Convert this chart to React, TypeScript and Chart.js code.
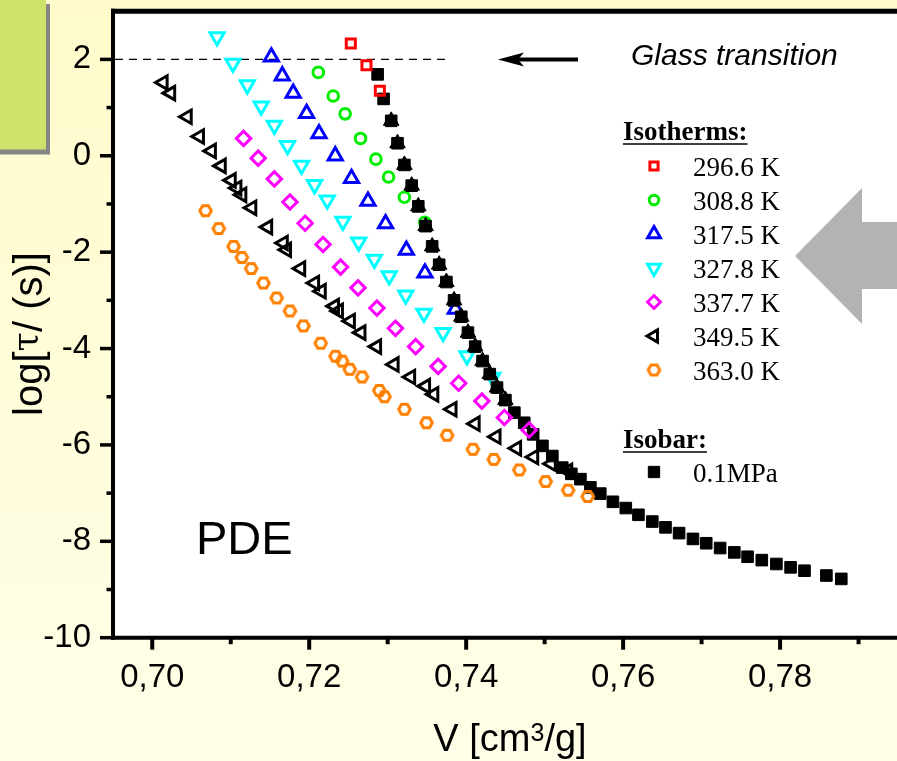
import React, { useEffect, useRef } from 'react';
import { Chart, registerables } from 'chart.js';
import { drawPoint } from 'chart.js/helpers';
Chart.register(...registerables);

// ---------- data: [V (cm3/g), log tau (s)] ----------
const iso296_6: number[][] = [[0.7253, 2.33], [0.7273, 1.88], [0.7290, 1.35]];
const iso308_8: number[][] = [
  [0.72116, 1.73], [0.72306, 1.24], [0.72458, 0.87], [0.72654, 0.36], [0.7285, -0.07],
  [0.73011, -0.44], [0.73213, -0.86], [0.73472, -1.38],
];
const iso317_5: number[][] = [
  [0.71518, 2.05], [0.71657, 1.66], [0.71796, 1.30], [0.71967, 0.88], [0.72125, 0.46],
  [0.72332, 0.00], [0.72539, -0.47], [0.72749, -0.94], [0.72973, -1.41], [0.73238, -1.96],
  [0.73475, -2.43], [0.73862, -3.18],
];
const iso327_8: number[][] = [
  [0.70826, 2.47], [0.71028, 1.92], [0.71211, 1.47], [0.71388, 1.03], [0.71556, 0.63],
  [0.71724, 0.21], [0.71902, -0.20], [0.72068, -0.60], [0.7223, -0.92], [0.72429, -1.36],
  [0.72631, -1.79], [0.7283, -2.15], [0.7302, -2.49], [0.7323, -2.89], [0.73462, -3.27],
  [0.73706, -3.67], [0.7401, -4.15], [0.74339, -4.60],
];
const iso337_7: number[][] = [
  [0.71164, 0.36], [0.7135, -0.05], [0.71556, -0.48], [0.71755, -0.96], [0.71948, -1.40],
  [0.72176, -1.84], [0.724, -2.31], [0.72622, -2.74], [0.72863, -3.16], [0.73099, -3.58],
  [0.73356, -3.96], [0.73643, -4.37], [0.73905, -4.72], [0.7420, -5.09], [0.74487, -5.43],
  [0.74803, -5.69],
];
const iso349_5: number[][] = [
  [0.7014, 1.52], [0.70236, 1.30], [0.70447, 0.81], [0.70603, 0.40], [0.70755, 0.10],
  [0.70881, -0.21], [0.71008, -0.51], [0.7108, -0.67], [0.71143, -0.81], [0.7127, -1.08],
  [0.71472, -1.48], [0.71671, -1.81], [0.71712, -1.95], [0.71893, -2.34], [0.7207, -2.64],
  [0.72155, -2.81], [0.72323, -3.12], [0.72374, -3.22], [0.72526, -3.43], [0.72661, -3.67],
  [0.7286, -3.96], [0.73083, -4.33], [0.73294, -4.59], [0.73484, -4.78], [0.73589, -4.95],
  [0.73821, -5.26], [0.74116, -5.56], [0.74382, -5.83], [0.74644, -6.07], [0.74862, -6.25],
  [0.75086, -6.39], [0.75296, -6.54],
];
const iso363_0: number[][] = [
  [0.70679, -1.14], [0.70848, -1.51], [0.71037, -1.88], [0.71142, -2.11], [0.71261, -2.34],
  [0.71417, -2.64], [0.71585, -2.95], [0.71755, -3.22], [0.71927, -3.53], [0.72147, -3.89],
  [0.72336, -4.16], [0.7242, -4.26], [0.72517, -4.43], [0.72673, -4.59], [0.72893, -4.87],
  [0.7296, -5.00], [0.73213, -5.26], [0.73495, -5.54], [0.73757, -5.80], [0.74086, -6.09],
  [0.74352, -6.30], [0.74677, -6.52], [0.75013, -6.76], [0.753, -6.94], [0.75549, -7.07],
];
const isobar0_1MPa: number[][] = [
  [0.72872, 1.69], [0.72948, 1.18], [0.73045, 0.725], [0.73125, 0.26], [0.73213, -0.19],
  [0.73306, -0.62], [0.7339, -1.05], [0.73483, -1.46], [0.73567, -1.88], [0.73656, -2.26],
  [0.73748, -2.62], [0.73846, -3.0], [0.73938, -3.34], [0.74023, -3.67], [0.74115, -3.96],
  [0.74209, -4.26], [0.74301, -4.53], [0.74393, -4.81], [0.745, -5.07], [0.74614, -5.33],
  [0.7474, -5.54], [0.74854, -5.78], [0.74972, -6.02], [0.75098, -6.23], [0.75225, -6.47],
  [0.75340, -6.60], [0.75456, -6.71], [0.75583, -6.88], [0.75709, -7.01], [0.7587, -7.18],
  [0.76034, -7.31], [0.76195, -7.45], [0.76372, -7.59], [0.7654, -7.71], [0.76713, -7.83],
  [0.7689, -7.95], [0.77059, -8.04], [0.77236, -8.14], [0.77417, -8.23], [0.77586, -8.32],
  [0.77767, -8.39], [0.77953, -8.47], [0.78134, -8.54], [0.78311, -8.61], [0.7859, -8.71],
  [0.7878, -8.78],
];
const isobarMarkedRange = [2, 19];

const isothermLabels = ['296.6 K', '308.8 K', '317.5 K', '327.8 K', '337.7 K', '349.5 K', '363.0 K'];
const isobarLabel = '0.1MPa';

const xMajorTicks = [0.70, 0.72, 0.74, 0.76, 0.78];
const xMinorTicks = [0.71, 0.73, 0.75, 0.77, 0.79];
const yMajorTicks = [-10, -8, -6, -4, -2, 0, 2];
const yMinorTicks = [-9, -7, -5, -3, -1, 1];
const glassLevel = 2;
const glassLineEnd = 0.738;

// ---------- styles ----------
const LW = 3;
function makeHexagon(color: string, r: number, lw: number) {
  const c = document.createElement('canvas');
  const s = Math.ceil(2 * r + lw + 2);
  c.width = s; c.height = s;
  const g = c.getContext('2d')!;
  g.strokeStyle = color; g.lineWidth = lw;
  g.beginPath();
  for (let i = 0; i < 6; i++) {
    const a = (Math.PI / 3) * i;
    const px = s / 2 + r * Math.cos(a), py = s / 2 + r * Math.sin(a);
    if (i === 0) g.moveTo(px, py); else g.lineTo(px, py);
  }
  g.closePath(); g.stroke();
  return c;
}

type Sty = { color: string; style: any; rotation: number; radius: number; order: number };

function buildStyles(): Sty[] {
  return [
    { color: '#ff0000', style: 'rect', rotation: 0, radius: 6.4, order: 1 },
    { color: '#00ee00', style: 'circle', rotation: 0, radius: 5.3, order: 8 },
    { color: '#0000ff', style: 'triangle', rotation: 0, radius: 8.2, order: 8 },
    { color: '#00ffff', style: 'triangle', rotation: 180, radius: 8.2, order: 8 },
    { color: '#ff00ff', style: 'rectRot', rotation: 0, radius: 7.2, order: 2 },
    { color: '#000000', style: 'triangle', rotation: -90, radius: 7.8, order: 3 },
    { color: '#ff8000', style: makeHexagon('#ff8000', 5.8, LW), rotation: 0, radius: 6, order: 2 },
  ];
}

const toPts = (a: number[][]) => a.map(([x, y]) => ({ x, y }));

export default function App() {
  const ref = useRef<HTMLCanvasElement>(null);
  useEffect(() => {
    const canvas = ref.current!;
    const styles = buildStyles();
    const series = [iso296_6, iso308_8, iso317_5, iso327_8, iso337_7, iso349_5, iso363_0];

    const datasets: any[] = series.map((d, i) => ({
      label: isothermLabels[i],
      data: toPts(d),
      showLine: false,
      pointStyle: styles[i].style,
      pointRotation: styles[i].rotation,
      pointRadius: styles[i].radius,
      pointBorderWidth: LW,
      pointBorderColor: styles[i].color,
      pointBackgroundColor: 'rgba(0,0,0,0)',
      order: styles[i].order,
    }));
    datasets.push({
      label: isobarLabel,
      data: toPts(isobar0_1MPa),
      showLine: false,
      pointStyle: 'rect',
      pointRadius: 8.2,
      pointBorderWidth: 1,
      pointBorderColor: '#000',
      pointBackgroundColor: '#000',
      order: 5,
    });
    datasets.push({
      label: 'isobar-marked',
      data: toPts(isobar0_1MPa.slice(isobarMarkedRange[0], isobarMarkedRange[1])),
      showLine: false,
      pointStyle: 'triangle',
      pointRadius: 9,
      pointBorderWidth: 1,
      pointBorderColor: '#000',
      pointBackgroundColor: '#000',
      order: 5,
    });

    const line = (ctx: CanvasRenderingContext2D, x1: number, y1: number, x2: number, y2: number) => {
      ctx.beginPath(); ctx.moveTo(x1, y1); ctx.lineTo(x2, y2); ctx.stroke();
    };

    const decor = {
      id: 'decor',
      beforeDraw(chart: any) {
        const { ctx, chartArea: ca, width, height } = chart;
        ctx.save();
        const g = ctx.createLinearGradient(0, 0, 0, height);
        g.addColorStop(0, '#fffbcb');
        g.addColorStop(1, '#fffee8');
        ctx.fillStyle = g;
        ctx.fillRect(0, 0, width, height);
        ctx.fillStyle = '#ffffff';
        ctx.fillRect(ca.left, ca.top, ca.right - ca.left, ca.bottom - ca.top);
        const xs = chart.scales.x, ys = chart.scales.y;
        ctx.strokeStyle = '#000'; ctx.lineWidth = 1.4; ctx.setLineDash([8, 6]);
        const gy = ys.getPixelForValue(glassLevel);
        line(ctx, ca.left + 2, gy, xs.getPixelForValue(glassLineEnd), gy);
        ctx.setLineDash([]);
        ctx.restore();
      },
      afterDraw(chart: any) {
        const { ctx, chartArea: ca, width } = chart;
        const xs = chart.scales.x, ys = chart.scales.y;
        ctx.save();
        ctx.strokeStyle = '#000'; ctx.lineCap = 'butt';
        ctx.lineWidth = 4;
        line(ctx, ca.left, ca.top - 2.5, ca.left, ca.bottom + 2);
        line(ctx, ca.left - 2, ca.bottom, width, ca.bottom);
        ctx.lineWidth = 5;
        line(ctx, ca.left - 2, ca.top, width, ca.top);
        ctx.lineWidth = 3.5;
        yMajorTicks.forEach(v => { const p = ys.getPixelForValue(v); line(ctx, ca.left - 13, p, ca.left, p); });
        yMinorTicks.forEach(v => { const p = ys.getPixelForValue(v); line(ctx, ca.left - 6.5, p, ca.left, p); });
        ctx.lineWidth = 4;
        xMajorTicks.forEach(v => { const p = xs.getPixelForValue(v); line(ctx, p, ca.bottom, p, ca.bottom + 12); });
        xMinorTicks.forEach(v => { const p = xs.getPixelForValue(v); line(ctx, p, ca.bottom, p, ca.bottom + 6.5); });

        ctx.fillStyle = '#000';
        ctx.textBaseline = 'alphabetic';
        // y title rotated
        {
          const f1 = '40px "Liberation Sans", Arial, sans-serif';
          const f2 = '35px "DejaVu Serif", serif';
          const parts: [string, string][] = [['log[', f1], ['\u03c4', f2], ['/ (s)]', f1]];
          let total = 0;
          const ws = parts.map(([t, f]) => { ctx.font = f; const w = ctx.measureText(t).width; total += w; return w; });
          ctx.save();
          ctx.translate(42, 334);
          ctx.rotate(-Math.PI / 2);
          let u = -total / 2;
          parts.forEach(([t, f], i) => { ctx.font = f; ctx.textAlign = 'left'; ctx.fillText(t, u, i === 1 ? -4 : 0); u += ws[i]; });
          ctx.restore();
        }
        // x title with superscript
        {
          const f1 = '38px "Liberation Sans", Arial, sans-serif';
          const f2 = '25px "Liberation Sans", Arial, sans-serif';
          const parts: [string, string, number][] = [['V [cm', f1, 0], ['3', f2, -10], ['/g]', f1, 0]];
          let total = 0;
          const ws = parts.map(([t, f]) => { ctx.font = f; const w = ctx.measureText(t).width; total += w; return w; });
          let x = 510 - total / 2;
          ctx.textAlign = 'left';
          parts.forEach(([t, f, dy], i) => { ctx.font = f; ctx.fillText(t, x, 751 + dy); x += ws[i]; });
        }

        ctx.font = '47px "Liberation Sans", Arial, sans-serif';
        ctx.textAlign = 'left';
        ctx.fillText('PDE', 196, 554);

        ctx.font = 'italic 30px "Liberation Sans", Arial, sans-serif';
        ctx.fillText('Glass transition', 631, 64.5);
        ctx.lineWidth = 4;
        line(ctx, 515, 59.5, 578, 59.5);
        ctx.beginPath();
        ctx.moveTo(498, 59.5); ctx.lineTo(524, 52.5); ctx.lineTo(518, 59.5); ctx.lineTo(524, 66.5);
        ctx.closePath(); ctx.fill();

        // legend
        const serif = '"Liberation Serif", "Times New Roman", serif';
        ctx.font = `bold 27px ${serif}`;
        const h1 = 'Isotherms:';
        ctx.fillText(h1, 623, 140);
        let w1 = ctx.measureText(h1).width;
        ctx.lineWidth = 1.6;
        line(ctx, 623, 144, 623 + w1, 144);
        const h2 = 'Isobar:';
        ctx.fillText(h2, 623, 448);
        w1 = ctx.measureText(h2).width;
        line(ctx, 623, 452, 623 + w1, 452);
        ctx.font = `27px ${serif}`;
        isothermLabels.forEach((lab, i) => {
          const yy = 166 + i * 34;
          const s = styles[i];
          ctx.save();
          ctx.strokeStyle = s.color; ctx.fillStyle = 'rgba(0,0,0,0)'; ctx.lineWidth = LW;
          drawPoint(ctx, { pointStyle: s.style, rotation: s.rotation, radius: s.radius * 0.9, borderWidth: LW } as any, 654, yy);
          ctx.restore();
          ctx.fillStyle = '#000';
          ctx.fillText(lab, 693, yy + 10);
        });
        ctx.save();
        ctx.fillStyle = '#000'; ctx.strokeStyle = '#000'; ctx.lineWidth = 1;
        drawPoint(ctx, { pointStyle: 'rect', rotation: 0, radius: 8, borderWidth: 1 } as any, 654, 472);
        ctx.restore();
        ctx.fillStyle = '#000';
        ctx.fillText(isobarLabel, 693, 482);

        // gray arrow
        ctx.fillStyle = '#b3b3b3';
        ctx.beginPath();
        ctx.moveTo(795, 256); ctx.lineTo(862, 188); ctx.lineTo(862, 222); ctx.lineTo(width, 222);
        ctx.lineTo(width, 289); ctx.lineTo(862, 289); ctx.lineTo(862, 324); ctx.closePath();
        ctx.fill();

        // green box with shadow
        ctx.fillStyle = '#858585';
        ctx.fillRect(0, 4, 50, 150.5);
        ctx.fillStyle = '#cce26a';
        ctx.fillRect(0, 0, 46, 149.5);
        ctx.restore();
      },
    };

    const chart = new Chart(canvas, {
      type: 'scatter',
      data: { datasets },
      options: {
        animation: false,
        responsive: false,
        devicePixelRatio: 1,
        layout: { padding: { top: 9.4, right: 6, left: 0, bottom: 0 } },
        plugins: { legend: { display: false }, tooltip: { enabled: false } },
        scales: {
          x: {
            type: 'linear', min: 0.695, max: 0.795,
            afterBuildTicks: (s: any) => { s.ticks = xMajorTicks.map(v => ({ value: v })); },
            afterFit: (s: any) => { s.height = 123.3; s.paddingLeft = 0; s.paddingRight = 0; },
            grid: { display: false, drawTicks: false },
            border: { display: false },
            ticks: {
              padding: 20, color: '#000', autoSkip: false, maxRotation: 0,
              font: { family: '"Liberation Sans", Arial, sans-serif', size: 33 },
              callback: (v: any) => Number(v).toFixed(2).replace('.', ','),
            },
          },
          y: {
            type: 'linear', min: -10, max: 3,
            afterBuildTicks: (s: any) => { s.ticks = yMajorTicks.map(v => ({ value: v })); },
            afterFit: (s: any) => { s.width = 113; s.paddingTop = 0; s.paddingBottom = 0; },
            grid: { display: false, drawTicks: false },
            border: { display: false },
            ticks: {
              padding: 22, color: '#000', autoSkip: false,
              font: { family: '"Liberation Sans", Arial, sans-serif', size: 33 },
              callback: (v: any) => String(v),
            },
          },
        },
      },
      plugins: [decor],
    } as any);
    return () => chart.destroy();
  }, []);

  return (
    <div style={{ position: 'fixed', left: 0, top: 0, width: 897, height: 761, overflow: 'hidden' }}>
      <canvas ref={ref} width={909} height={761} style={{ display: 'block', width: 909, height: 761 }} />
    </div>
  );
}
